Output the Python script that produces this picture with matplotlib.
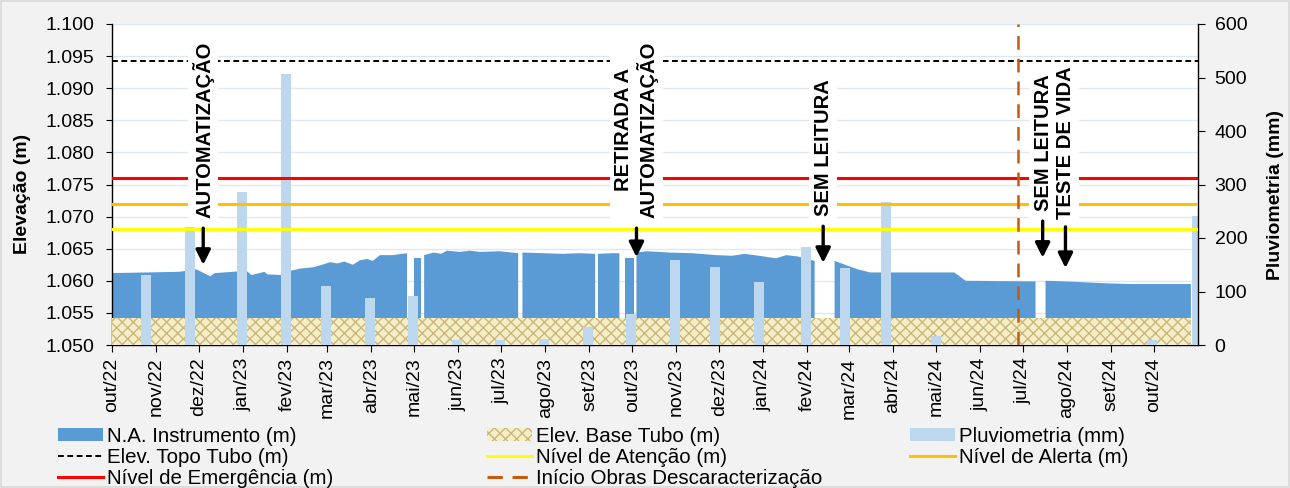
import numpy as np
import matplotlib
matplotlib.use('Agg')
import matplotlib.pyplot as plt
import matplotlib.dates as mdates
from matplotlib.patches import Patch, Rectangle
from matplotlib.lines import Line2D
from matplotlib.ticker import FormatStrFormatter

plt.rcParams['font.family'] = ['Liberation Sans', 'DejaVu Sans']
plt.rcParams['hatch.linewidth'] = 1.0
plt.rcParams['hatch.color'] = '#c9b77c'

# ---------------- data ----------------
na_dates = [
    '2022-10-01', '2022-11-17', '2022-11-29', '2022-12-09', '2022-12-12', '2022-12-25',
    '2023-01-03', '2023-01-07', '2023-01-16', '2023-01-18', '2023-01-28', '2023-01-31',
    '2023-02-10', '2023-02-19', '2023-02-24', '2023-03-03', '2023-03-08', '2023-03-13',
    '2023-03-19', '2023-03-24', '2023-03-29', '2023-04-02', '2023-04-07', '2023-04-16',
    '2023-04-26', '2023-04-28', '2023-05-01', '2023-05-06', '2023-05-07', '2023-05-08',
    '2023-05-15', '2023-05-20', '2023-05-24', '2023-06-02', '2023-06-09', '2023-06-16',
    '2023-06-30', '2023-07-13',
    '2023-07-14', '2023-07-16', '2023-07-31', '2023-08-13', '2023-08-25', '2023-09-05',
    '2023-09-06', '2023-09-07', '2023-09-17', '2023-09-22', '2023-09-24', '2023-09-26',
    '2023-10-02', '2023-10-03', '2023-10-04', '2023-10-11', '2023-10-20', '2023-10-27',
    '2023-11-12', '2023-11-29', '2023-12-10', '2023-12-19', '2023-12-29', '2024-01-10',
    '2024-01-17', '2024-01-25', '2024-02-06', '2024-02-13', '2024-02-20', '2024-03-07',
    '2024-03-16', '2024-05-14', '2024-05-22', '2024-07-10', '2024-07-13', '2024-07-17',
    '2024-07-31', '2024-08-30', '2024-09-15', '2024-10-27',
]
na_values = [
    1.0612, 1.0614, 1.0618, 1.0607, 1.0612, 1.0614,
    1.0616, 1.0609, 1.0614, 1.0610, 1.0609, 1.0614,
    1.0619, 1.0621, 1.0624, 1.0629, 1.0627, 1.0630,
    1.0625, 1.0632, 1.0634, 1.0631, 1.0640, 1.0640,
    1.0643, np.nan, 1.0636, 1.0636, np.nan, 1.0640,
    1.0644, 1.0642, 1.0647, 1.0645, 1.0647, 1.0645,
    1.0646, 1.0643,
    np.nan, 1.0644, 1.0643, 1.0642, 1.0643, 1.0642,
    np.nan, 1.0642, 1.0643, 1.0643, np.nan, 1.0635,
    1.0635, np.nan, 1.0644, 1.0646, 1.0645, 1.0644,
    1.0643, 1.0640, 1.0639, 1.0642, 1.0639, 1.0635,
    1.0640, 1.0638, 1.0631, np.nan, 1.0631, 1.0618,
    1.0613, 1.0613, 1.0600, 1.0599, np.nan, 1.0600,
    1.0599, 1.0596, 1.0595, 1.0595,
]

base_dates = ['2022-10-01', '2024-10-27']
base_values = [1.0542, 1.0542]

rain_dates = [
    '2022-10-25', '2022-11-25', '2022-12-31', '2023-01-31', '2023-02-28', '2023-03-31',
    '2023-04-30', '2023-05-31', '2023-06-30', '2023-07-31', '2023-08-31', '2023-09-30',
    '2023-10-31', '2023-11-28', '2023-12-29', '2024-01-31', '2024-02-27', '2024-03-27',
    '2024-05-01', '2024-05-31', '2024-06-30', '2024-07-31', '2024-08-31', '2024-09-30',
    '2024-10-31',
]
rain_mm = [130, 221, 286, 506, 110, 87, 92, 9, 10, 11, 34, 58, 158, 146, 118,
           184, 144, 268, 16, 0, 0, 0, 0, 9, 241]

topo_tubo = 1.0943
nivel_emergencia = 1.076
nivel_alerta = 1.072
nivel_atencao = 1.068
inicio_obras = '2024-06-28'

tick_dates = [
    '2022-10-01', '2022-11-01', '2022-12-01', '2023-01-01', '2023-02-01', '2023-03-01',
    '2023-04-01', '2023-05-01', '2023-06-01', '2023-07-01', '2023-08-01', '2023-09-01',
    '2023-10-01', '2023-11-01', '2023-12-01', '2024-01-01', '2024-02-01', '2024-03-01',
    '2024-04-01', '2024-05-01', '2024-06-01', '2024-07-01', '2024-08-01', '2024-09-01',
    '2024-10-01',
]
tick_labels = [
    'out/22', 'nov/22', 'dez/22', 'jan/23', 'fev/23', 'mar/23', 'abr/23', 'mai/23',
    'jun/23', 'jul/23', 'ago/23', 'set/23', 'out/23', 'nov/23', 'dez/23', 'jan/24',
    'fev/24', 'mar/24', 'abr/24', 'mai/24', 'jun/24', 'jul/24', 'ago/24', 'set/24',
    'out/24',
]
y_left_ticks = [1.050, 1.055, 1.060, 1.065, 1.070, 1.075, 1.080, 1.085, 1.090, 1.095, 1.100]
y_right_ticks = [0, 100, 200, 300, 400, 500, 600]

# annotations: (text, date of text, bottom of text (m), arrows [(date, tail, tip)])
annotations = [
    ('AUTOMATIZAÇÃO', '2022-12-04', 1.0698, [('2022-12-04', 1.0682, 1.0625)]),
    ('RETIRADA A\nAUTOMATIZAÇÃO', '2023-10-04', 1.0698, [('2023-10-04', 1.0682, 1.0637)]),
    ('SEM LEITURA', '2024-02-12', 1.0701, [('2024-02-12', 1.0685, 1.0628)]),
    ('SEM LEITURA\nTESTE DE VIDA', '2024-07-23', 1.0697,
     [('2024-07-15', 1.0693, 1.0636), ('2024-07-31', 1.0684, 1.0620)]),
]

# ---------------- colors ----------------
c_na = '#5b9bd5'
c_rain = '#bdd7ee'
c_base_face = '#f6eec6'
c_base_hatch = '#c9b77c'

def d(s):
    return mdates.date2num(np.datetime64(s, 'D'))

na_x = mdates.date2num(np.array(na_dates, dtype='datetime64[D]'))
base_x = mdates.date2num(np.array(base_dates, dtype='datetime64[D]'))
rain_x = mdates.date2num(np.array(rain_dates, dtype='datetime64[D]'))
tick_x = mdates.date2num(np.array(tick_dates, dtype='datetime64[D]'))

W, H = 1290, 488
fig = plt.figure(figsize=(W / 100, H / 100), dpi=100, facecolor='#f2f2f2')
fig.patches.append(Rectangle((0.001, 0.002), 0.998, 0.996, transform=fig.transFigure,
                             fill=False, edgecolor='#d9d9d9', lw=1.2))

rect = [112 / W, 1 - 345 / H, 1086 / W, 321 / H]
ax1 = fig.add_axes(rect)
ax1.set_facecolor('white')
ax1.fill_between(na_x, 1.05, na_values, color=c_na, lw=0, zorder=2)
ax1.fill_between(base_x, 1.05, base_values, facecolor=c_base_face, edgecolor=c_base_hatch,
                 hatch='xxx', lw=0, zorder=3)
ax1.set_xlim(d('2022-10-01'), d('2024-11-01'))
ax1.set_ylim(1.050, 1.100)
ax1.set_yticks(y_left_ticks)
ax1.yaxis.set_major_formatter(FormatStrFormatter('%.3f'))
ax1.set_xticks(tick_x)
ax1.set_xticklabels(tick_labels, rotation=90)
ax1.grid(axis='y', color='#e1e7ef', lw=1.0, zorder=0)
ax1.set_axisbelow(True)
for s in ['top', 'right']:
    ax1.spines[s].set_visible(False)
for s in ['left', 'bottom']:
    ax1.spines[s].set_color('black')
    ax1.spines[s].set_linewidth(1.0)
ax1.tick_params(axis='y', labelsize=14, length=4.5, pad=8, colors='black')
ax1.tick_params(axis='x', labelsize=14, length=5, pad=4, colors='black')

ax2 = ax1.twinx()
ax2.bar(rain_x, rain_mm, width=7, color=c_rain, zorder=2)
ax2.set_ylim(0, 600)
ax2.set_yticks(y_right_ticks)
for s in ['top', 'left', 'bottom']:
    ax2.spines[s].set_visible(False)
ax2.spines['right'].set_color('black')
ax2.spines['right'].set_linewidth(1.0)
ax2.tick_params(axis='y', labelsize=14, length=5, pad=7, colors='black')

ax3 = fig.add_axes(rect, sharex=ax1, sharey=ax1)
ax3.set_axis_off()
ax3.patch.set_visible(False)
ax3.axhline(topo_tubo, color='black', lw=1.4, ls=(0, (3, 1.8)), zorder=2)
ax3.axhline(nivel_emergencia, color='#ff0000', lw=2.2, zorder=2)
ax3.axhline(nivel_alerta, color='#ffc000', lw=2.2, zorder=2)
ax3.axhline(nivel_atencao, color='#ffff00', lw=2.2, zorder=2)
ax3.axvline(d(inicio_obras), color='#c55a11', lw=1.8, ls=(0, (5.5, 3.6)), zorder=2)

for text, tdate, ybot, arrows in annotations:
    ax3.text(d(tdate), ybot, text, rotation=90, ha='center', va='bottom',
             multialignment='center', fontsize=14.5, fontweight='bold', color='black',
             bbox=dict(facecolor='white', edgecolor='none', pad=3), zorder=5)
    for adate, tail, tip in arrows:
        ax3.annotate('', xy=(d(adate), tip), xytext=(d(adate), tail),
                     arrowprops=dict(arrowstyle='-|>', color='black', lw=2.4,
                                     mutation_scale=22, shrinkA=0, shrinkB=0),
                     zorder=6)

fig.text(23 / W, 1 - 194 / H, 'Elevação (m)', rotation=90, ha='center', va='center',
         fontsize=14, fontweight='bold')
fig.text(1275 / W, 1 - 195 / H, 'Pluviometria (mm)', rotation=90, ha='center', va='center',
         fontsize=14, fontweight='bold')

# ---------------- legend ----------------
col1 = ([Patch(facecolor=c_na),
         Line2D([], [], color='black', lw=1.4, ls=(0, (3, 1.8))),
         Line2D([], [], color='#ff0000', lw=2.2)],
        ['N.A. Instrumento (m)', 'Elev. Topo Tubo (m)', 'Nível de Emergência (m)'])
col2 = ([Patch(facecolor=c_base_face, edgecolor=c_base_hatch, hatch='xxx', lw=0),
         Line2D([], [], color='#ffff00', lw=2.2),
         Line2D([], [], color='#c55a11', lw=2.2, ls=(0, (5, 3.2)))],
        ['Elev. Base Tubo (m)', 'Nível de Atenção (m)', 'Início Obras Descaracterização'])
col3 = ([Patch(facecolor=c_rain),
         Line2D([], [], color='#ffc000', lw=2.2)],
        ['Pluviometria (mm)', 'Nível de Alerta (m)'])

for (handles, labels), x0 in zip([col1, col2, col3], [58, 487, 910]):
    fig.legend(handles, labels, loc='upper left', bbox_to_anchor=(x0 / W, 1 - 427 / H),
               frameon=False, fontsize=14.8, handlelength=2.2, handleheight=0.6,
               handletextpad=0.2, labelspacing=0.1, borderpad=0, borderaxespad=0)

fig.savefig('out.png', dpi=100, facecolor=fig.get_facecolor())
